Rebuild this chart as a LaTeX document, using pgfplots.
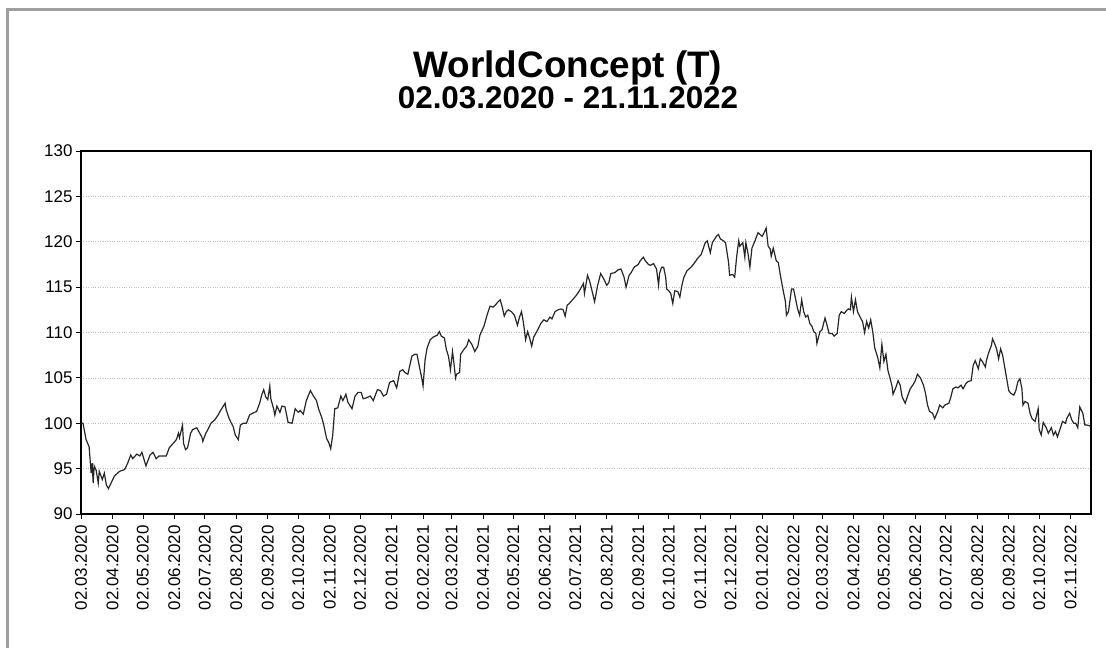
\documentclass[border=0pt]{standalone}
\usepackage{fontspec}
\setmainfont{Liberation Sans}
\usepackage{pgfplots}
\pgfplotsset{compat=1.18}
\begin{document}
\begin{tikzpicture}
\path[use as bounding box] (-81bp,-134bp) rectangle (1025bp,514bp);
\begin{axis}[
  at={(0,0)}, anchor=south west,
  width=1010bp, height=363bp, scale only axis,
  xmin=0, xmax=995, ymin=90, ymax=130,
  ytick={90,95,...,130},
  xtick={0,31,61,92,122,153,184,214,245,275,306,337,365,396,426,457,487,518,549,579,610,640,671,702,730,761,791,822,852,883,914,944,975},
  xticklabels={02.03.2020,02.04.2020,02.05.2020,02.06.2020,02.07.2020,02.08.2020,02.09.2020,02.10.2020,02.11.2020,02.12.2020,02.01.2021,02.02.2021,02.03.2021,02.04.2021,02.05.2021,02.06.2021,02.07.2021,02.08.2021,02.09.2021,02.10.2021,02.11.2021,02.12.2021,02.01.2022,02.02.2022,02.03.2022,02.04.2022,02.05.2022,02.06.2022,02.07.2022,02.08.2022,02.09.2022,02.10.2022,02.11.2022},
  xticklabel style={rotate=90, anchor=east, xshift=-3bp, font=\fontsize{17}{18}\selectfont},
  yticklabel style={font=\fontsize{17}{18}\selectfont},
  /pgf/number format/assume math mode=true,
  tick align=outside, xtick pos=bottom, ytick pos=left,
  major tick length=5bp,
  tick style={black, line width=0.8bp},
  ymajorgrids, grid style={dotted, gray!50, line width=0.7bp},
  axis line style={black, line width=1.1bp},
]
\addplot[black!85, line width=1.2bp] table {
0 100.0
2 100.0
5 98.2
8 97.4
10 94.5
11 95.6
12 93.4
13 95.3
15 94.8
17 93.4
18 94.7
21 93.8
23 94.5
25 93.2
27 92.8
30 93.5
33 94.2
38 94.7
43 94.9
46 95.6
49 96.5
51 96.1
55 96.6
58 96.4
60 96.8
64 95.3
68 96.5
71 96.8
74 96.1
77 96.4
81 96.4
84 96.4
87 97.3
91 97.8
94 98.2
96 98.9
97 98.4
100 99.8
101 97.8
103 97.1
105 97.3
108 98.9
110 99.3
114 99.5
116 99.1
119 98.5
120 98.0
123 98.9
125 99.3
128 100.0
132 100.4
135 100.9
138 101.5
142 102.2
143 101.5
146 100.5
150 99.6
152 98.7
155 98.2
157 99.8
160 100.0
163 100.0
166 100.9
169 101.1
173 101.3
176 102.2
178 103.1
180 103.7
182 102.9
184 102.6
186 104.1
187 102.7
190 101.5
191 100.9
193 101.9
196 101.2
198 101.9
201 101.8
204 100.1
208 100.0
211 101.6
214 101.2
216 101.4
219 101.0
222 102.5
226 103.6
229 103.0
232 102.5
234 101.6
237 100.7
239 99.9
242 98.3
244 97.9
246 97.2
248 98.7
250 101.6
253 101.7
256 103.0
258 102.5
261 103.2
263 102.3
267 101.6
270 103.0
273 103.4
276 103.4
278 102.7
281 102.8
285 103.0
288 102.5
292 103.7
295 103.6
298 103.0
301 103.2
304 104.5
308 104.7
311 103.9
314 105.7
317 105.9
319 105.6
322 105.4
326 107.4
329 107.6
331 107.6
334 105.9
336 104.8
337 104.1
339 107.0
341 108.3
344 109.2
347 109.5
351 109.7
353 110.1
355 109.6
358 109.4
360 108.1
362 107.4
364 105.9
366 107.9
367 107.0
369 105.0
370 105.4
373 105.6
374 107.6
377 108.1
380 108.5
382 109.2
385 108.7
388 107.9
391 108.5
393 109.7
397 110.7
400 111.9
403 112.9
406 112.8
408 113.0
411 113.4
413 113.6
415 112.8
417 111.8
419 112.3
421 112.5
424 112.3
427 111.9
430 110.8
432 111.7
434 112.3
436 111.0
438 109.2
440 110.1
442 109.4
444 108.5
446 109.5
450 110.3
453 111.0
456 111.4
459 111.2
462 111.7
464 111.5
467 112.3
470 112.5
473 112.6
475 112.5
477 111.8
479 113.0
481 113.2
485 113.7
488 114.1
491 114.6
495 115.4
496 114.3
499 116.3
501 115.7
503 114.8
506 113.4
509 115.2
512 116.5
515 115.9
518 115.2
520 115.5
522 116.5
526 116.6
529 116.9
532 117.0
535 116.1
537 115.0
540 116.3
542 116.6
545 117.2
549 117.5
551 117.9
554 118.3
556 117.9
559 117.5
561 117.4
564 117.6
565 117.4
567 117.0
569 115.2
570 116.5
572 117.2
574 117.2
576 116.1
577 114.8
579 114.6
581 114.3
583 113.2
585 114.6
588 114.5
590 113.9
592 115.2
594 116.1
597 116.8
601 117.2
604 117.6
607 118.1
611 118.6
615 119.9
617 120.1
620 118.8
622 119.9
626 120.6
628 120.8
630 120.3
633 120.1
635 119.9
638 117.7
639 116.3
642 116.4
644 116.1
646 118.4
648 120.1
649 119.5
652 119.9
654 118.3
655 119.9
657 118.8
659 117.2
661 119.3
664 120.1
667 121.0
671 120.6
673 121.0
675 121.5
677 119.5
679 119.2
680 118.4
682 119.3
685 117.9
687 117.7
689 116.3
692 114.5
694 113.4
695 111.9
697 112.3
700 114.8
702 114.8
704 113.7
706 112.6
708 111.9
710 113.6
712 112.3
714 111.7
716 111.9
718 111.0
720 110.7
722 110.1
724 109.9
725 108.8
728 110.1
730 110.3
733 111.6
735 110.8
737 109.9
740 109.9
742 109.6
745 109.9
747 111.9
749 112.3
752 112.1
754 112.4
756 112.6
758 112.5
759 113.9
761 112.3
763 113.6
765 112.3
768 111.6
770 111.2
772 110.0
774 111.2
776 110.5
778 111.4
780 110.1
782 108.3
785 107.2
787 106.1
789 108.7
791 106.8
793 107.6
795 105.8
797 105.0
799 104.1
800 103.2
803 104.0
805 104.7
807 104.2
809 102.9
812 102.2
814 102.9
817 103.8
820 104.3
822 104.7
824 105.4
827 105.0
830 104.2
832 103.3
834 102.0
836 101.3
839 101.1
841 100.5
844 101.3
846 102.0
849 101.7
851 102.0
855 102.2
857 102.9
859 103.8
862 104.0
864 103.9
867 104.2
869 103.8
872 104.4
874 104.6
877 104.7
879 106.4
881 106.9
884 106.0
886 107.1
888 106.8
891 106.2
892 106.9
894 107.7
897 108.6
898 109.3
900 108.8
902 108.2
904 107.1
906 108.2
908 107.5
910 106.2
912 104.9
914 103.6
916 103.3
919 103.1
921 103.6
923 104.6
925 104.9
927 103.8
928 102.0
930 102.4
933 102.2
935 101.1
937 100.5
940 100.2
943 101.6
944 99.3
946 98.7
948 100.1
951 99.5
953 98.9
956 99.5
958 98.7
960 99.1
962 98.5
965 99.5
967 100.2
970 100.0
971 100.5
974 101.1
976 100.4
978 100.0
980 100.0
982 99.5
984 101.8
987 101.1
989 99.8
991 99.8
994 99.7
};
\end{axis}
\node[anchor=base, font=\fontsize{37}{42}\selectfont\bfseries] at (487bp,436bp) {WorldConcept (T)};
\node[anchor=base, font=\fontsize{31.5}{36}\selectfont\bfseries] at (487bp,405bp) {02.03.2020 - 21.11.2022};
\draw[gray!75, line width=3bp] (-73bp,-134bp) -- (-73bp,504bp) -- (1025bp,504bp);
\end{tikzpicture}
\end{document}
